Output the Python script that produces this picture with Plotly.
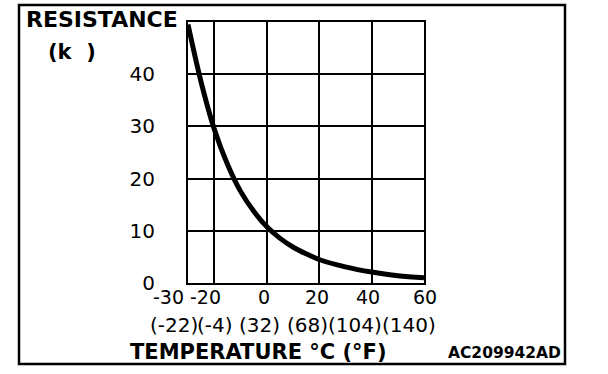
import plotly.graph_objects as go

# ---- data ----
temps_c = [-30, -25, -20, -15, -10, -5, 0, 5, 10, 15, 20, 30, 40, 50, 60]
resistance_k = [49.5, 38.5, 29.5, 22.8, 17.6, 13.8, 10.8, 8.6, 6.9, 5.6, 4.5, 3.1, 2.1, 1.4, 1.0]

x_grid = [-20, 0, 20, 40]
y_ticks = [0, 10, 20, 30, 40]
c_labels = ["-30", "-20", "0", "20", "40", "60"]
f_labels = ["(-22)", "(-4)", "(32)", "(68)", "(104)", "(140)"]

# ---- layout geometry (pixels) ----
W, H = 608, 374
L, R, T, B = 188, 424, 22, 283
PW, PH = R - L, B - T


def px(x):
    return (x - L) / PW


def py(y):
    return (B - y) / PH


FONT = "DejaVu Sans"

fig = go.Figure()
fig.add_trace(go.Scatter(
    x=temps_c, y=resistance_k, mode="lines",
    line=dict(color="black", width=5, shape="spline", smoothing=1.0),
    hoverinfo="skip", showlegend=False,
))

fig.update_layout(
    width=W, height=H,
    margin=dict(l=L, r=W - R, t=T, b=H - B, pad=0),
    paper_bgcolor="white", plot_bgcolor="white",
    showlegend=False,
    font=dict(family=FONT, color="black", size=20),
)

fig.update_xaxes(
    range=[-30, 60], tickvals=x_grid, showticklabels=False,
    showgrid=True, gridcolor="black", gridwidth=2,
    showline=True, linecolor="black", linewidth=2, mirror=True,
    zeroline=False, fixedrange=True,
)
fig.update_yaxes(
    range=[0, 50], tickvals=y_ticks, ticktext=[str(v) for v in y_ticks],
    showgrid=True, gridcolor="black", gridwidth=2,
    showline=True, linecolor="black", linewidth=2, mirror=True,
    zeroline=False, ticks="", ticklabelstandoff=27,
    tickfont=dict(family=FONT, size=20, color="black"),
    fixedrange=True,
)

# outer frame
fig.add_shape(type="rect", xref="paper", yref="paper",
              x0=px(19), x1=px(565), y0=py(364), y1=py(5),
              line=dict(color="black", width=2.5), layer="above")

# Celsius labels (pixel centres)
c_pos = [168, 205, 264, 317, 368, 425]
for lab, xp in zip(c_labels, c_pos):
    fig.add_annotation(text=lab, xref="paper", yref="paper", x=px(xp), y=py(297),
                       xanchor="center", yanchor="middle", showarrow=False,
                       font=dict(family=FONT, size=19, color="black"))

# Fahrenheit labels
f_pos = [174, 215, 259, 307, 355, 409]
for lab, xp in zip(f_labels, f_pos):
    fig.add_annotation(text=lab, xref="paper", yref="paper", x=px(xp), y=py(325),
                       xanchor="center", yanchor="middle", showarrow=False,
                       font=dict(family=FONT, size=20, color="black"))

# titles
fig.add_annotation(text="<b>RESISTANCE</b>", xref="paper", yref="paper",
                   x=px(24), y=py(20), xanchor="left", yanchor="middle",
                   showarrow=False, font=dict(family=FONT, size=22, color="black"))
fig.add_annotation(text="<b>(k\u00a0\u00a0)</b>", xref="paper", yref="paper",
                   x=px(46), y=py(52), xanchor="left", yanchor="middle",
                   showarrow=False, font=dict(family=FONT, size=21, color="black"))
fig.add_annotation(text="<b>TEMPERATURE °C (°F)</b>", xref="paper", yref="paper",
                   x=px(258), y=py(352), xanchor="center", yanchor="middle",
                   showarrow=False, font=dict(family=FONT, size=21, color="black"))
fig.add_annotation(text="<b>AC209942AD</b>", xref="paper", yref="paper",
                   x=px(563), y=py(353), xanchor="right", yanchor="middle",
                   showarrow=False, font=dict(family=FONT, size=15.5, color="black"))

fig.write_html("out.html", config={"displayModeBar": False},
               post_script="document.body.style.margin='0px';")
